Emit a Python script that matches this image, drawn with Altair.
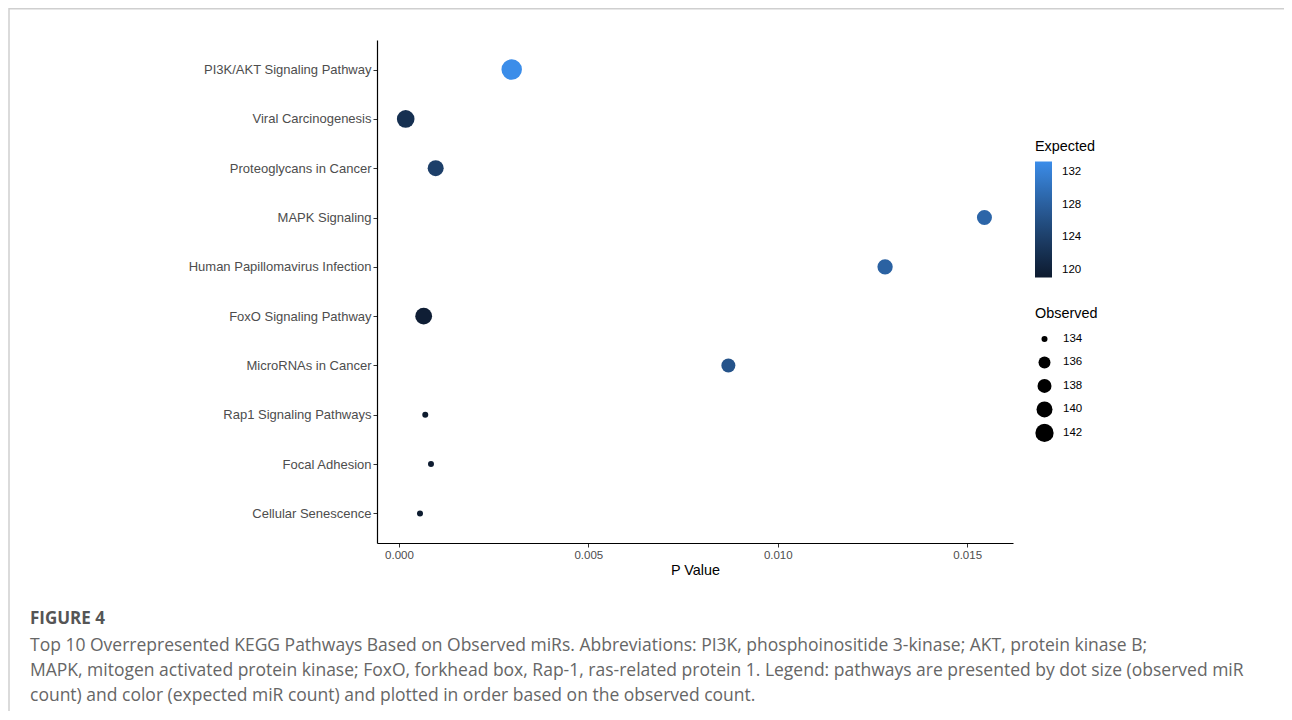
import altair as alt
import pandas as pd

pathways = [
    "PI3K/AKT Signaling Pathway",
    "Viral Carcinogenesis",
    "Proteoglycans in Cancer",
    "MAPK Signaling",
    "Human Papillomavirus Infection",
    "FoxO Signaling Pathway",
    "MicroRNAs in Cancer",
    "Rap1 Signaling Pathways",
    "Focal Adhesion",
    "Cellular Senescence",
]
p_values = [0.002976, 0.000177, 0.000969, 0.015456, 0.012833,
            0.000652, 0.008696, 0.000694, 0.000845, 0.000555]
observed = [144, 141.4, 140, 139, 139.3, 140.7, 138, 134, 134, 134]
expected = [133.3, 122.0, 124.0, 128.7, 128.3, 119.6, 126.5, 119.1, 119.3, 119.2]

x_ticks = [0.0, 0.005, 0.010, 0.015]
color_ticks = [120, 124, 128, 132]
size_ticks = [134, 136, 138, 140, 142]

caption_title = "FIGURE 4"
caption_lines = [
    "Top 10 Overrepresented KEGG Pathways Based on Observed miRs. Abbreviations: PI3K, phosphoinositide 3-kinase; AKT, protein kinase B;",
    "MAPK, mitogen activated protein kinase; FoxO, forkhead box, Rap-1, ras-related protein 1. Legend: pathways are presented by dot size (observed miR",
    "count) and color (expected miR count) and plotted in order based on the observed count.",
]

df = pd.DataFrame({
    "Pathway": pathways,
    "pval": p_values,
    "Observed": observed,
    "Expected": expected,
})

points = alt.Chart(df).mark_circle(opacity=1).encode(
    x=alt.X("pval:Q",
            scale=alt.Scale(domain=[-0.00058, 0.01621], nice=False, zero=False),
            axis=alt.Axis(values=x_ticks, format=".3f", title="P Value",
                          labelFontSize=11.5, labelPadding=2, titlePadding=3)),
    y=alt.Y("Pathway:N", sort=pathways,
            scale=alt.Scale(type="point", padding=0.6),
            axis=alt.Axis(title=None, labelPadding=2, labelFontSize=13,
                          labelLimit=400)),
    color=alt.Color("Expected:Q",
                    scale=alt.Scale(domain=[119.1, 133.3],
                                    range=["#0d1b2f", "#3b8de9"],
                                    interpolate="lab"),
                    legend=alt.Legend(title="Expected", values=color_ticks,
                                      orient="none", legendX=658, legendY=100,
                                      gradientLength=116, gradientThickness=17,
                                      labelOffset=10, titlePadding=7)),
    size=alt.Size("Observed:Q",
                  scale=alt.Scale(domain=[134, 136, 138, 140, 142, 144],
                                  range=[36, 144, 196, 256, 335, 420]),
                  legend=alt.Legend(title="Observed", values=size_ticks,
                                    orient="none", legendX=658, legendY=267,
                                    symbolFillColor="black", symbolStrokeWidth=0,
                                    symbolOpacity=1, labelOffset=9,
                                    clipHeight=19, rowPadding=4.5, titlePadding=8)),
)

one = pd.DataFrame({"k": [0]})
top_line = alt.Chart(one).mark_rule(color="#cfcfcf", strokeWidth=1.5).encode(
    x=alt.value(-368), x2=alt.value(915), y=alt.value(-31.2))
left_line = alt.Chart(one).mark_rule(color="#cfcfcf", strokeWidth=1.5).encode(
    x=alt.value(-368), y=alt.value(-32), y2=alt.value(680))

fig_label = alt.Chart(one).mark_text(
    align="left", baseline="middle", font="Open Sans", fontSize=17,
    fontWeight="bold", color="#555555").encode(
    x=alt.value(-347), y=alt.value(579), text=alt.value(caption_title))

caption_layers = []
for i, line in enumerate(caption_lines):
    caption_layers.append(
        alt.Chart(one).mark_text(
            align="left", baseline="middle", font="Open Sans", fontSize=17.5,
            color="#666666").encode(
            x=alt.value(-347), y=alt.value(606 + 25 * i), text=alt.value(line))
    )

chart = alt.layer(top_line, left_line, fig_label, *caption_layers, points).properties(
    width=636,
    height=503,
    autosize=alt.AutoSizeParams(type="none"),
    padding={"left": 369, "top": 32, "right": 271, "bottom": 168},
).configure_view(stroke=None).configure_axis(
    labelFont="Liberation Sans",
    labelColor="#4d4d4d",
    titleFont="Liberation Sans",
    titleFontSize=14.4,
    titleFontWeight="normal",
    titleColor="black",
    domainColor="black",
    domainWidth=1.2,
    tickColor="#333333",
    tickSize=4,
    grid=False,
).configure_legend(
    titleFont="Liberation Sans",
    titleFontSize=14.4,
    titleFontWeight="normal",
    titleColor="black",
    labelFont="Liberation Sans",
    labelFontSize=11.5,
    labelColor="black",
)

chart.save("out.html", embed_options={"renderer": "svg", "actions": False})
